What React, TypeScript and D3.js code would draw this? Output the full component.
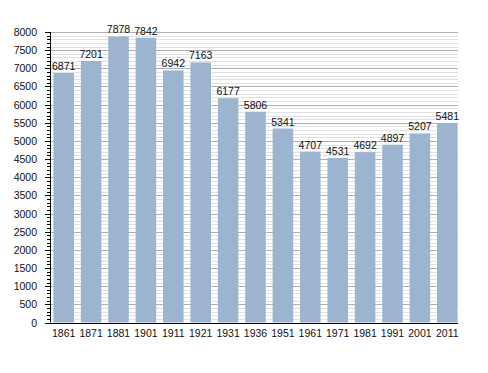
import React from 'react';
import * as d3 from 'd3';

const width = 488;
const height = 373;
const margin = { top: 32, right: 30, bottom: 50.5, left: 50 };

const years = ['1861', '1871', '1881', '1901', '1911', '1921', '1931', '1936', '1951', '1961', '1971', '1981', '1991', '2001', '2011'];
const population = [6871, 7201, 7878, 7842, 6942, 7163, 6177, 5806, 5341, 4707, 4531, 4692, 4897, 5207, 5481];
const majorTicks = d3.range(0, 8001, 500);
const minorTicks = d3.range(0, 8001, 100);

const App = () => {
  const x = d3.scaleBand<string>()
    .domain(years)
    .range([margin.left, 461])
    .paddingInner(0.25)
    .paddingOuter(0.125);

  const y = d3.scaleLinear()
    .domain([0, 8000])
    .range([height - margin.bottom, margin.top]);

  const plotRight = 458;
  const font = 'Liberation Sans, Arial, sans-serif';
  const fs = 10.5;

  return (
    <svg width={width} height={height} style={{ position: 'absolute', left: 0, top: 0, background: '#fff' }}>
      {/* minor grid */}
      {minorTicks.filter(t => t % 500 !== 0).map(t => (
        <line key={'m' + t} x1={margin.left} x2={plotRight} y1={Math.round(y(t)) + 0.5} y2={Math.round(y(t)) + 0.5} stroke="#e2e2e2" strokeWidth={1} />
      ))}
      {/* major grid */}
      {majorTicks.filter(t => t > 0).map(t => (
        <line key={'M' + t} x1={margin.left} x2={plotRight} y1={Math.round(y(t)) + 0.5} y2={Math.round(y(t)) + 0.5} stroke="#b0b0b0" strokeWidth={1} />
      ))}
      {/* bars */}
      {years.map((yr, i) => (
        <rect key={yr} x={x(yr)} y={y(population[i])} width={x.bandwidth()} height={y(0) - y(population[i])} fill="#9cb4cf" />
      ))}
      {/* value labels */}
      {years.map((yr, i) => (
        <text key={'v' + yr} x={(x(yr) as number) + x.bandwidth() / 2} y={y(population[i]) - 3} textAnchor="middle" fontFamily={font} fontSize={fs} fill="#111">
          {population[i]}
        </text>
      ))}
      {/* y axis */}
      <line x1={margin.left + 0.5} x2={margin.left + 0.5} y1={y(8000)} y2={y(0)} stroke="#000" />
      {minorTicks.map(t => (
        <line key={'t' + t} x1={margin.left - (t % 500 === 0 ? 5 : 3)} x2={margin.left} y1={Math.round(y(t)) + 0.5} y2={Math.round(y(t)) + 0.5} stroke="#000" strokeWidth={1} />
      ))}
      {majorTicks.map(t => (
        <text key={'yl' + t} x={margin.left - 13} y={y(t) + 4} textAnchor="end" fontFamily={font} fontSize={fs} fill="#111">
          {t}
        </text>
      ))}
      {/* x axis */}
      <line x1={margin.left} x2={plotRight} y1={Math.round(y(0)) + 0.5} y2={Math.round(y(0)) + 0.5} stroke="#000" />
      {years.map(yr => (
        <text key={'xl' + yr} x={(x(yr) as number) + x.bandwidth() / 2} y={y(0) + 14.5} textAnchor="middle" fontFamily={font} fontSize={fs} fill="#111">
          {yr}
        </text>
      ))}
    </svg>
  );
};

export default App;
